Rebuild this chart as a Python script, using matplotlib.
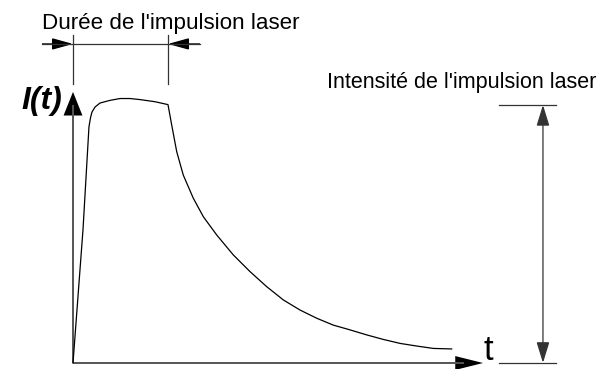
import matplotlib
matplotlib.use("Agg")
import matplotlib.pyplot as plt
from matplotlib.patches import FancyArrowPatch, ArrowStyle

plt.rcParams['font.family'] = ['Liberation Sans', 'DejaVu Sans']

# Pulse shape (normalised time: pulse duration = 1 ; normalised intensity: peak = 1)
pulse_t = [0.0, 0.105, 0.168, 0.184, 0.200, 0.232, 0.284, 0.389, 0.495, 0.600,
           0.705, 0.863, 1.000,
           1.039, 1.092, 1.161, 1.266, 1.372, 1.513, 1.687, 1.863, 2.039, 2.214,
           2.389, 2.565, 2.740, 2.916, 3.092, 3.266, 3.442, 3.618, 3.793, 3.986]
pulse_I = [0.0, 0.502, 0.891, 0.925, 0.947, 0.966, 0.981, 0.991, 0.998, 0.998,
           0.994, 0.986, 0.975,
           0.898, 0.797, 0.709, 0.622, 0.552, 0.483, 0.408, 0.345, 0.288, 0.238,
           0.200, 0.169, 0.143, 0.125, 0.106, 0.089, 0.074, 0.064, 0.055, 0.053]

pulse_duration = 1.0
peak_level = 0.974
t_axis_end = 4.316
I_axis_end = 1.023

label_duration = "Durée de l'impulsion laser"
label_intensity = "Intensité de l'impulsion laser"
label_I = "I(t)"
label_t = "t"

fig = plt.figure(figsize=(6.02, 3.69), dpi=100)
ax = fig.add_axes([0, 0, 1, 1])
ax.set_xlim(-0.7684, 5.5684)
ax.set_ylim(-0.02264, 1.3698)
ax.axis('off')

def arrow(p0, p1, hl, hw, color, lw, both=False):
    style = ArrowStyle('<|-|>' if both else '-|>', head_length=hl, head_width=hw)
    a = FancyArrowPatch(p0, p1, arrowstyle=style, mutation_scale=1,
                        shrinkA=0, shrinkB=0, color=color, lw=lw,
                        joinstyle='miter', capstyle='butt')
    ax.add_patch(a)

axis_col = '#555555'
# axes
arrow((0, 0), (0, I_axis_end), 17, 6.8, 'black', 0)
ax.plot([0, 0], [0, I_axis_end - 0.05], color=axis_col, lw=1.4, solid_capstyle='butt')
arrow((0, 0), (t_axis_end, 0), 20, 5, 'black', 0)
ax.plot([0, t_axis_end - 0.2], [0, 0], color=axis_col, lw=1.4, solid_capstyle='butt')

# pulse curve
ax.plot(pulse_t, pulse_I, color='black', lw=0.9, solid_joinstyle='round')

# duration annotation
ann_col = '#333333'
y_dur = 1.204
ax.plot([0, 0], [1.053, 1.238], color=ann_col, lw=0.9)
ax.plot([pulse_duration, pulse_duration], [1.053, 1.238], color=ann_col, lw=0.9)
ax.plot([-0.326, 1.337], [y_dur, y_dur], color=ann_col, lw=0.9)
arrow((-0.326, y_dur), (0, y_dur), 13, 3.6, 'black', 0.9)
arrow((1.337, y_dur), (pulse_duration, y_dur), 13, 3.6, 'black', 0.9)
ax.text(-0.326, 1.283, label_duration, fontsize=16.1, ha='left', va='center')

# intensity annotation
x_int = 4.947
ax.plot([4.484, 5.084], [peak_level, peak_level], color=ann_col, lw=0.9)
ax.plot([4.484, 5.084], [0, 0], color=ann_col, lw=0.9)
arrow((x_int, 0), (x_int, peak_level), 13, 4, ann_col, 0.9, both=True)
ax.text(2.674, 1.060, label_intensity, fontsize=15.5, ha='left', va='center')

# axis labels
ax.text(-0.116, 0.989, label_I, fontsize=23, style='italic', weight='bold',
        ha='right', va='center')
ax.text(4.316, 0.049, label_t, fontsize=25, ha='left', va='center')

fig.savefig('out.png', dpi=100)
